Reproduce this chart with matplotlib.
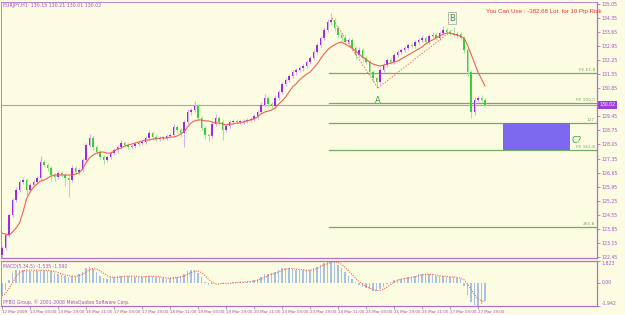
import numpy as np
import matplotlib
matplotlib.use("Agg")
import matplotlib.pyplot as plt

# EURJPY H1 candles (close of each bar; open = previous close)
first_open = 122.55
closes = [
    122.90, 123.54, 124.54, 125.29, 125.78, 126.18, 126.28, 125.78, 126.03, 126.18,
    126.38, 127.18, 127.03, 126.88, 126.53, 126.43, 126.63, 126.53, 126.38, 126.28,
    126.88, 126.68, 126.78, 127.28, 128.02, 128.37, 127.92, 127.67, 127.43, 127.28,
    127.43, 127.62, 127.77, 127.92, 128.12, 128.02, 127.92, 127.97, 128.07, 128.12,
    128.17, 128.37, 128.62, 128.42, 128.32, 128.37, 128.37, 128.47, 128.52, 128.92,
    128.77, 128.62, 129.17, 129.66, 129.76, 129.96, 129.37, 128.87, 128.52, 128.47,
    129.07, 129.37, 129.17, 128.77, 128.97, 129.17, 129.22, 129.17, 129.17, 129.22,
    129.27, 129.32, 129.46, 129.66, 130.01, 130.36, 130.06, 129.96, 130.36, 130.66,
    131.06, 131.26, 131.45, 131.65, 131.75, 131.85, 131.95, 132.15, 132.35, 132.65,
    133.00, 133.35, 133.74, 134.14, 134.24, 133.84, 133.49, 133.35, 133.15, 133.25,
    132.85, 132.50, 132.75, 132.35, 132.15, 131.65, 131.36, 131.16, 131.75, 132.00,
    132.25, 132.15, 132.50, 132.65, 132.75, 132.85, 133.00, 132.95, 133.15, 133.25,
    133.35, 133.15, 133.44, 133.49, 133.35, 133.59, 133.74, 133.64, 133.59, 133.49,
    133.54, 133.35, 132.75, 131.65, 129.66, 130.26, 130.36, 130.26, 130.02,
]
wick_hi = [
    0.10, 0.12, 0.10, 0.12, 0.15, 0.12, 0.15, 0.10, 0.12, 0.10,
    0.12, 0.30, 0.10, 0.12, 0.10, 0.12, 0.10, 0.12, 0.10, 0.10,
    0.15, 0.10, 0.12, 0.10, 0.12, 0.20, 0.10, 0.12, 0.10, 0.10,
    0.12, 0.10, 0.12, 0.10, 0.15, 0.10, 0.12, 0.10, 0.10, 0.12,
    0.10, 0.12, 0.15, 0.10, 0.12, 0.10, 0.10, 0.12, 0.10, 0.15,
    0.10, 0.12, 0.10, 0.15, 0.12, 0.25, 0.10, 0.12, 0.10, 0.10,
    0.15, 0.20, 0.10, 0.12, 0.10, 0.12, 0.10, 0.10, 0.12, 0.10,
    0.10, 0.12, 0.10, 0.12, 0.15, 0.20, 0.10, 0.12, 0.15, 0.10,
    0.12, 0.10, 0.12, 0.10, 0.12, 0.10, 0.12, 0.10, 0.10, 0.12,
    0.10, 0.12, 0.15, 0.15, 0.35, 0.10, 0.12, 0.10, 0.15, 0.12,
    0.10, 0.12, 0.15, 0.10, 0.12, 0.10, 0.12, 0.10, 0.12, 0.10,
    0.12, 0.10, 0.10, 0.12, 0.10, 0.12, 0.10, 0.10, 0.12, 0.10,
    0.15, 0.10, 0.12, 0.15, 0.10, 0.12, 0.20, 0.10, 0.12, 0.30,
    0.10, 0.12, 0.10, 0.10, 0.12, 0.15, 0.12, 0.15, 0.10,
]
wick_lo = [
    0.15, 0.12, 0.10, 0.12, 0.10, 0.10, 0.12, 0.25, 0.12, 0.10,
    0.10, 0.12, 0.10, 0.15, 0.30, 0.20, 0.10, 0.12, 0.40, 0.85,
    0.12, 0.10, 0.12, 0.10, 0.10, 0.12, 0.15, 0.10, 0.12, 0.20,
    0.10, 0.12, 0.10, 0.12, 0.10, 0.12, 0.10, 0.10, 0.12, 0.10,
    0.12, 0.10, 0.10, 0.15, 0.12, 0.10, 0.12, 0.10, 0.10, 0.12,
    0.15, 0.20, 0.70, 0.10, 0.12, 0.10, 0.15, 0.12, 0.20, 0.25,
    0.12, 0.10, 0.15, 0.50, 0.12, 0.10, 0.12, 0.10, 0.10, 0.12,
    0.10, 0.12, 0.10, 0.12, 0.10, 0.12, 0.15, 0.12, 0.10, 0.12,
    0.10, 0.12, 0.10, 0.10, 0.12, 0.10, 0.12, 0.10, 0.10, 0.12,
    0.10, 0.12, 0.10, 0.10, 0.12, 0.15, 0.12, 0.15, 0.12, 0.10,
    0.15, 0.20, 0.12, 0.15, 0.12, 0.15, 0.20, 0.30, 0.12, 0.10,
    0.10, 0.12, 0.10, 0.10, 0.12, 0.10, 0.12, 0.10, 0.10, 0.12,
    0.10, 0.12, 0.10, 0.10, 0.12, 0.10, 0.10, 0.12, 0.10, 0.10,
    0.12, 0.10, 0.15, 0.20, 0.30, 0.15, 0.12, 0.10, 0.10,
]
# red moving average
ma = [
    123.64, 123.59, 123.54, 123.69, 123.89, 124.14, 124.69, 125.34, 125.68, 125.93,
    126.08, 126.23, 126.28, 126.38, 126.48, 126.53, 126.53, 126.53, 126.53, 126.53,
    126.53, 126.58, 126.63, 126.83, 127.13, 127.38, 127.52, 127.62, 127.67, 127.67,
    127.62, 127.62, 127.72, 127.82, 127.87, 127.97, 128.02, 128.07, 128.12, 128.17,
    128.22, 128.27, 128.27, 128.32, 128.32, 128.37, 128.37, 128.37, 128.42, 128.42,
    128.47, 128.57, 128.67, 128.92, 129.12, 129.22, 129.27, 129.27, 129.22, 129.22,
    129.17, 129.12, 129.12, 129.07, 129.02, 129.07, 129.07, 129.12, 129.12, 129.17,
    129.22, 129.27, 129.32, 129.42, 129.57, 129.66, 129.71, 129.76, 129.86, 130.06,
    130.21, 130.41, 130.66, 130.91, 131.06, 131.26, 131.41, 131.55, 131.65, 131.85,
    132.05, 132.30, 132.55, 132.75, 132.90, 133.00, 133.10, 133.15, 133.05, 132.95,
    132.85, 132.70, 132.55, 132.40, 132.30, 132.15, 132.05, 132.00, 131.95, 132.00,
    132.05, 132.10, 132.15, 132.20, 132.30, 132.40, 132.50, 132.60, 132.70, 132.80,
    132.90, 133.05, 133.15, 133.25, 133.35, 133.44, 133.54, 133.59, 133.59, 133.54,
    133.49, 133.44, 133.35, 133.00, 132.55, 132.10, 131.65, 131.31, 130.96,
]
# MACD(5,34,5)
macd_hist = [
    -1.0, -0.6, 0.2, 0.8, 1.1, 1.1, 1.05, 1.0, 1.0, 1.0,
    1.0, 1.1, 1.05, 1.0, 0.95, 0.85, 0.75, 0.65, 0.55, 0.5,
    0.55, 0.6, 0.7, 0.9, 1.2, 1.3, 1.15, 0.9, 0.6, 0.4,
    0.35, 0.45, 0.5, 0.55, 0.6, 0.6, 0.55, 0.55, 0.5, 0.5,
    0.5, 0.55, 0.6, 0.55, 0.5, 0.45, 0.4, 0.35, 0.4, 0.5,
    0.5, 0.55, 0.7, 0.95, 1.05, 1.1, 0.85, 0.5, 0.1, -0.2,
    -0.1, -0.05, 0.0, -0.1, -0.05, 0.0, 0.05, 0.05, 0.1, 0.1,
    0.1, 0.15, 0.2, 0.3, 0.5, 0.7, 0.75, 0.8, 0.9, 1.05,
    1.2, 1.25, 1.2, 1.15, 1.1, 1.1, 1.05, 1.05, 1.1, 1.2,
    1.35, 1.5, 1.65, 1.75, 1.8, 1.7, 1.5, 1.2, 0.9, 0.6,
    0.3, 0.05, -0.2, -0.35, -0.45, -0.55, -0.65, -0.7, -0.55, -0.35,
    -0.1, 0.1, 0.25, 0.3, 0.35, 0.4, 0.45, 0.5, 0.6, 0.7,
    0.75, 0.75, 0.7, 0.65, 0.6, 0.55, 0.55, 0.5, 0.5, 0.45,
    0.4, 0.3, -0.3, -1.0, -1.6, -1.9, -1.94, -1.75, -1.54,
]
macd_signal = [
    -1.1, -0.9, -0.5, 0.0, 0.5, 0.85, 1.0, 1.05, 1.05, 1.05,
    1.05, 1.05, 1.05, 1.05, 1.0, 0.95, 0.85, 0.75, 0.65, 0.6,
    0.55, 0.55, 0.6, 0.7, 0.9, 1.1, 1.2, 1.15, 1.0, 0.8,
    0.6, 0.5, 0.45, 0.45, 0.5, 0.55, 0.55, 0.55, 0.55, 0.5,
    0.5, 0.5, 0.55, 0.55, 0.55, 0.5, 0.45, 0.4, 0.4, 0.4,
    0.45, 0.5, 0.55, 0.7, 0.85, 0.95, 1.0, 0.85, 0.6, 0.3,
    0.05, -0.1, -0.1, -0.05, -0.05, -0.05, 0.0, 0.0, 0.05, 0.05,
    0.1, 0.1, 0.15, 0.2, 0.3, 0.45, 0.6, 0.7, 0.8, 0.9,
    1.05, 1.15, 1.2, 1.2, 1.15, 1.1, 1.1, 1.05, 1.05, 1.1,
    1.2, 1.35, 1.5, 1.6, 1.7, 1.75, 1.7, 1.55, 1.3, 1.0,
    0.7, 0.4, 0.1, -0.1, -0.3, -0.45, -0.55, -0.65, -0.65, -0.55,
    -0.35, -0.15, 0.05, 0.2, 0.3, 0.35, 0.4, 0.45, 0.5, 0.6,
    0.65, 0.7, 0.7, 0.7, 0.65, 0.6, 0.55, 0.55, 0.5, 0.5,
    0.45, 0.4, 0.25, -0.1, -0.55, -1.0, -1.35, -1.5, -1.59,
]

time_labels = ["12 Mar 2009", "13 Mar 03:00", "13 Mar 19:00", "16 Mar 11:00",
               "17 Mar 03:00", "17 Mar 19:00", "18 Mar 11:00", "19 Mar 03:00",
               "19 Mar 19:00", "20 Mar 11:00", "23 Mar 03:00", "23 Mar 19:00",
               "24 Mar 11:00", "25 Mar 03:00", "25 Mar 19:00", "26 Mar 11:00",
               "27 Mar 03:00", "27 Mar 19:00"]
price_ticks = [135.05, 134.35, 133.65, 132.95, 132.25, 131.55, 130.85, 130.15,
               129.45, 128.75, 128.05, 127.35, 126.65, 125.95, 125.25, 124.55,
               123.85, 123.15, 122.45]

# Fibo expansion levels drawn by the expert
fib_names = ["FE 61.8", "FE 100.0", "127", "FE 161.8", "261.8"]
fib_prices = [131.60, 130.11, 129.12, 127.77, 123.94]
fib_start = 93.5

# pattern points (bar, price)
peak_pt = (94.3, 134.34)
a_pt = (107.4, 130.86)
b_pt = (128.6, 133.74)

BG = "#fcfce2"
AXC = "#b070d0"
TXT = "#a050c8"
BULL, BULL_W = "#9a2ae8", "#d7b0ee"
BEAR, BEAR_W = "#3ccf3c", "#a8e4a0"
FIB = "#78a868"

n = len(closes)
x = np.arange(n)
opens = [first_open] + closes[:-1]
highs = [max(o, c) + w for o, c, w in zip(opens, closes, wick_hi)]
lows = [min(o, c) - w for o, c, w in zip(opens, closes, wick_lo)]

W, H = 625, 315
fig = plt.figure(figsize=(W / 100, H / 100), dpi=100, facecolor=BG)
ax = fig.add_axes([1 / W, (H - 258) / H, 596 / W, 256 / H], facecolor=BG)
ax2 = fig.add_axes([1 / W, (H - 306) / H, 596 / W, 45 / H], facecolor=BG, sharex=ax)

xmin, xmax = -0.29, 170.0

# candles
up = [c >= o for o, c in zip(opens, closes)]
ax.vlines(x, lows, highs, colors=[BULL_W if u else BEAR_W for u in up], lw=0.8, zorder=2)
ax.bar(x, [max(abs(c - o), 0.03) for o, c in zip(opens, closes)],
       bottom=[min(o, c) for o, c in zip(opens, closes)], width=0.55,
       color=[BULL if u else BEAR for u in up], lw=0, zorder=3)
ax.plot(x, ma, color="#f06050", lw=0.8, zorder=4)

# bid line
ax.axhline(closes[-1], color="#a8a89c", lw=0.8, zorder=1)

# fib levels
for name, p in zip(fib_names, fib_prices):
    ax.plot([fib_start, xmax], [p, p], color=FIB, lw=0.9, zorder=1)
    ax.text(xmax - 0.5, p + 0.06, name, color=FIB, fontsize=3.2, ha="right", va="bottom")

# target zone
ax.add_patch(plt.Rectangle((143.1, fib_prices[3]), 19.2, fib_prices[2] - fib_prices[3],
                           facecolor="#7b68ee", edgecolor="none", zorder=2))
ax.text(162.6, 128.27, "C?", color="#3a9a3a", fontsize=6, va="center", ha="left")

# pattern lines
ax.plot([peak_pt[0], a_pt[0]], [peak_pt[1], a_pt[1]], color="#f07060", lw=0.7, ls=(0, (1.5, 1.5)), zorder=4)
ax.plot([a_pt[0], b_pt[0]], [a_pt[1], b_pt[1]], color="#f07060", lw=0.7, ls=(0, (1.5, 1.5)), zorder=4)
ax.text(a_pt[0], 130.26, "A", color="#3a9a3a", fontsize=6, ha="center", va="center")
ax.text(b_pt[0], 134.34, "B", color="#3a9a3a", fontsize=6, ha="center", va="center",
        bbox=dict(boxstyle="square,pad=0.15", fc="#f4f4e8", ec="#a0a0a0", lw=0.5))

ax.set_xlim(xmin, xmax)
ax.set_ylim(122.40, 135.14)
ax.yaxis.tick_right()
ax.set_yticks(price_ticks)
# the 130.15 label sits under the current price box
ax.set_yticklabels(["" if v == 130.15 else f"{v:.2f}" for v in price_ticks])
ax.tick_params(axis="y", colors=AXC, labelcolor=TXT, labelsize=3.3, length=2, width=0.6, pad=1.5)
ax.tick_params(axis="x", bottom=False, labelbottom=False)
for s in ["left", "top"]:
    ax.spines[s].set_color(AXC)
    ax.spines[s].set_linestyle((0, (1, 1)))
    ax.spines[s].set_linewidth(0.6)
for s in ["right", "bottom"]:
    ax.spines[s].set_color(AXC)
    ax.spines[s].set_linewidth(0.9)

# current price box
ax.text(1.004, closes[-1], f"{closes[-1]:.2f}", transform=ax.get_yaxis_transform(),
        fontsize=3.3, color="white", ha="left", va="center",
        bbox=dict(boxstyle="square,pad=0.35", fc="#9b40d8", ec="none"))

fig.text(3 / W, 1 - 5 / H, "EURJPY,H1  130.15 130.21 130.01 130.02", color=TXT,
         fontsize=3.4, ha="left", va="center")
fig.text(601 / W, 1 - 11 / H, "You Can Use : -382.68 Lot. for 10 Pip Risk", color="#f03030",
         fontsize=4.4, family="Liberation Sans", ha="right", va="center")

# MACD panel
ax2.bar(x, macd_hist, width=0.45, color="#a8bfe6", lw=0, zorder=2)
ax2.plot(x, macd_signal, color="#f06050", lw=0.8, ls=(0, (1, 1.2)), zorder=3)
ax2.set_ylim(-1.942, 1.823)
ax2.yaxis.tick_right()
ax2.set_yticks([1.823, 0.0, -1.942])
ax2.set_yticklabels(["1.823", "0.00", "-1.942"])
for lbl, va in zip(ax2.get_yticklabels(), ["top", "center", "bottom"]):
    lbl.set_va(va)
ax2.tick_params(axis="y", colors=AXC, labelcolor=TXT, labelsize=3.3, length=2, width=0.6, pad=1.5)
ax2.text(0.004, 0.93, "MACD(5,34,5) -1.535 -1.592", transform=ax2.transAxes, color=TXT,
         fontsize=3.3, ha="left", va="top")
ax2.text(0.004, 0.03, "PFBO Group, \u00a9 2001-2008 MetaQuotes Software Corp.", transform=ax2.transAxes,
         color=TXT, fontsize=3.3, ha="left", va="bottom")
ax2.spines["left"].set_color(AXC)
ax2.spines["left"].set_linestyle((0, (1, 1)))
ax2.spines["left"].set_linewidth(0.6)
for s in ["right", "bottom", "top"]:
    ax2.spines[s].set_color(AXC)
    ax2.spines[s].set_linewidth(0.9)

ax2.set_xticks(np.arange(0, 8 * len(time_labels), 8))
ax2.set_xticklabels(time_labels, ha="left")
ax2.tick_params(axis="x", colors=AXC, labelcolor=TXT, labelsize=2.9, length=2, width=0.6, pad=1)
ax2.set_xlim(xmin, xmax)

fig.savefig("out.png", dpi=100, facecolor=BG)
